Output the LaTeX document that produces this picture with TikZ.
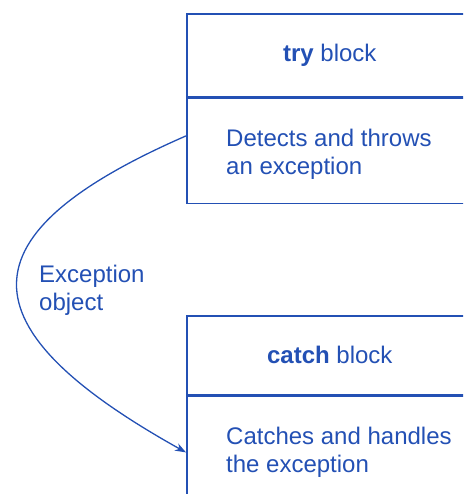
\documentclass[tikz,border=0pt]{standalone}
\usepackage{fontspec}
\setmainfont{Liberation Sans}
\usetikzlibrary{arrows.meta}
\definecolor{inkblue}{RGB}{35,80,180}

\begin{document}
\begin{tikzpicture}[x=1pt, y=-1pt,
		every node/.style={text=inkblue, font=\fontsize{24}{28}\selectfont},
		part/.style={draw=inkblue, line width=1.6pt, minimum width=286pt, inner sep=0pt, anchor=north west},
		words/.style={inner sep=0pt, align=left, anchor=west},
		flow/.style={draw=inkblue, line width=1.3pt, -{Stealth[length=11pt, width=8pt]}}]
		% Frame of the picture
		\clip (0,0) rectangle (463,494);
		% try block
		\node[part, minimum height=83pt] (tryhead) at (186,13) {\textbf{try} block};
		\node[part, minimum height=105pt] (trybody) at (tryhead.south west) {};
		\node[words] (trytext) at ([shift={(40,3)}]trybody.west) {Detects and throws\\an exception};
		% catch block
		\node[part, minimum height=79pt] (catchhead) at (186,315) {\textbf{catch} block};
		\node[part, minimum height=112pt] (catchbody) at (catchhead.south west) {};
		\node[words] (catchtext) at ([xshift=40pt]catchbody.west) {Catches and handles\\the exception};
		% Exception object passed on
		\draw[flow] ([shift={(0,-15)}]trybody.west) .. controls (-39,234) and (-39,327) .. (catchbody.west);
		\node[words] (objlabel) at (39,290) {Exception\\object};
	\end{tikzpicture}
\end{document}
